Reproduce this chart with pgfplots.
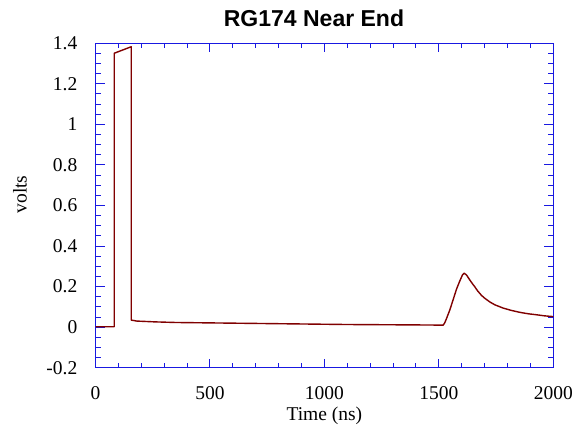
\documentclass[border=0pt]{standalone}
\usepackage{fontspec}
\usepackage{pgfplots}
\pgfplotsset{compat=1.18}
\setmainfont{Liberation Serif}
\newfontfamily\titlefont{Liberation Sans}
\definecolor{axblue}{RGB}{25,25,225}
\definecolor{trace}{RGB}{128,0,0}
\newcommand{\lblfont}{\fontsize{19.5}{21}\selectfont}

\begin{document}
\begin{tikzpicture}[x=1pt,y=1pt]
\useasboundingbox (0,0) rectangle (577,425);
\begin{axis}[
  at={(95.5pt,57.3pt)}, anchor=south west,
  scale only axis, width=457.8pt, height=324.4pt,
  xmin=0, xmax=2000, ymin=-0.2, ymax=1.4,
  xtick={0,500,1000,1500,2000},
  ytick={-0.2,0,0.2,0.4,0.6,0.8,1,1.2,1.4},
  minor x tick num=4, minor y tick num=3,
  tick align=inside, xtick pos=both, ytick pos=both,
  xticklabel pos=lower, yticklabel pos=left,
  major tick length=9pt, minor tick length=5pt,
  scaled ticks=false,
  /pgf/number format/1000 sep={},
  /pgf/number format/assume math mode=true,
  draw=axblue,
  axis line style={draw=axblue, line width=1.3pt},
  major tick style={draw=axblue, line width=1pt},
  minor tick style={draw=axblue, line width=1pt},
  ticklabel style={font=\lblfont, text=black},
  xticklabel style={anchor=base, inner sep=0pt, yshift=-31.6pt},
  yticklabel style={anchor=east, inner sep=0pt, xshift=-18pt},
  clip=false,
]
\addplot[trace, line width=1.4pt, line join=round] coordinates {
  (0,0.002) (82,0.002) (82,1.351) (156,1.383) (156,0.035)
  (180,0.030) (260,0.026) (350,0.023) (500,0.021) (650,0.019)
  (800,0.017) (950,0.015) (1100,0.013) (1250,0.012) (1400,0.011)
  (1519,0.010) (1526,0.022) (1534,0.044) (1548,0.085) (1562,0.134)
  (1577,0.187) (1592,0.229) (1603,0.257) (1611,0.266) (1621,0.257)
  (1635,0.233) (1645,0.217) (1657,0.199) (1670,0.178) (1686,0.157)
  (1700,0.143) (1723,0.124) (1745,0.110) (1781,0.094) (1815,0.083)
  (1854,0.073) (1890,0.066) (1927,0.061) (1960,0.056) (2000,0.052)
};
\end{axis}
\node[anchor=base, font=\titlefont\bfseries\fontsize{23}{25}\selectfont] at (314,398.3) {RG174 Near End};
\node[anchor=base, font=\lblfont] at (324.4,5) {Time (ns)};
\node[rotate=90, anchor=base, font=\lblfont] at (26.7,230.5) {volts};
\end{tikzpicture}
\end{document}
